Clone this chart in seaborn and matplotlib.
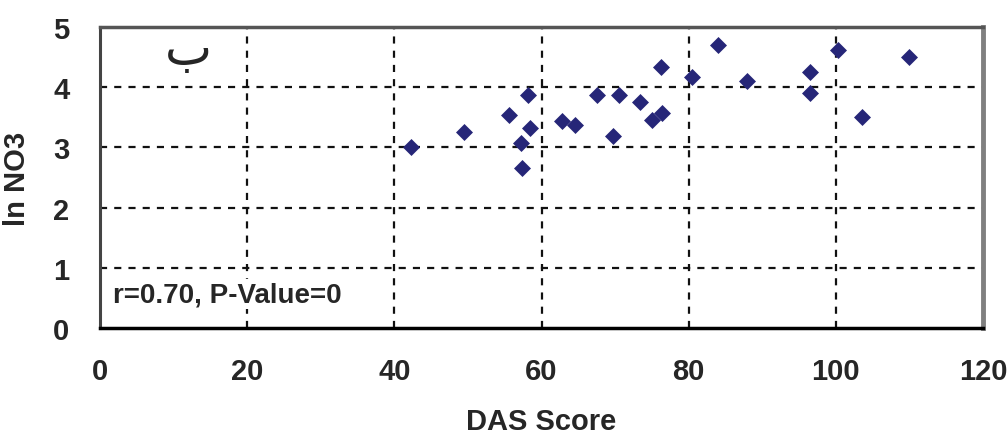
import matplotlib
matplotlib.use("Agg")
import matplotlib.pyplot as plt
import seaborn as sns
import pandas as pd

das_score = [42.3, 49.5, 55.6, 58.1, 58.4, 57.2, 57.4, 62.8, 64.5, 67.5,
             70.5, 69.7, 73.4, 75.0, 76.4, 76.3, 80.5, 84.0, 87.9, 96.5,
             96.5, 100.3, 103.6, 110.0]
ln_no3 = [3.00, 3.25, 3.53, 3.87, 3.33, 3.08, 2.66, 3.44, 3.37, 3.87,
          3.87, 3.19, 3.75, 3.45, 3.57, 4.33, 4.17, 4.70, 4.11, 4.26,
          3.90, 4.62, 3.51, 4.50]
x_ticks = [0, 20, 40, 60, 80, 100, 120]
y_ticks = [0, 1, 2, 3, 4, 5]

df = pd.DataFrame({"DAS Score": das_score, "ln NO3": ln_no3})

sns.set_style("white")
plt.rcParams['font.family'] = ['Liberation Sans', 'DejaVu Sans']

fig = plt.figure(figsize=(10.07, 4.39), dpi=100)
ax = fig.add_axes([0.0993, 0.2506, 0.8769, 0.6857])

sns.scatterplot(data=df, x="DAS Score", y="ln NO3", ax=ax, marker="D",
                s=75, color="#262678", edgecolor="#262678", linewidth=0,
                zorder=3)

ax.set_xlim(0, 120)
ax.set_ylim(0, 5)
ax.set_xticks(x_ticks)
ax.set_yticks(y_ticks)
ax.set_xticklabels([str(t) for t in x_ticks], fontsize=21, fontweight="bold")
ax.set_yticklabels([str(t) for t in y_ticks], fontsize=21, fontweight="bold")
ax.tick_params(axis="both", length=0)
ax.tick_params(axis="x", pad=21)
ax.tick_params(axis="y", pad=22)

for gx in x_ticks[1:-1]:
    ax.axvline(gx, color="#111111", lw=1.6, ls=(0, (3.2, 3.2)), zorder=1)
for gy in y_ticks[1:-1]:
    ax.axhline(gy, color="#111111", lw=1.6, ls=(0, (3.2, 3.2)), zorder=1)

ax.set_xlabel("DAS Score", fontsize=21, fontweight="bold", labelpad=16)
ax.set_ylabel("ln NO3", fontsize=21, fontweight="bold", labelpad=16)

ax.spines["top"].set_color("#555555")
ax.spines["top"].set_linewidth(2.5)
ax.spines["left"].set_color("#444444")
ax.spines["left"].set_linewidth(2.2)
ax.spines["right"].set_color("#808080")
ax.spines["right"].set_linewidth(3.5)
ax.spines["bottom"].set_color("#000000")
ax.spines["bottom"].set_linewidth(2.5)

ax.text(1.8, 0.56, "r=0.70, P-Value=0", fontsize=20, fontweight="bold",
        ha="left", va="center", zorder=4,
        bbox=dict(facecolor="white", edgecolor="none", pad=1.5))
ax.text(12, 4.62, "ب", fontsize=36, ha="center", va="center",
        family=["DejaVu Sans"], zorder=4)

fig.savefig("out.png", dpi=100)
